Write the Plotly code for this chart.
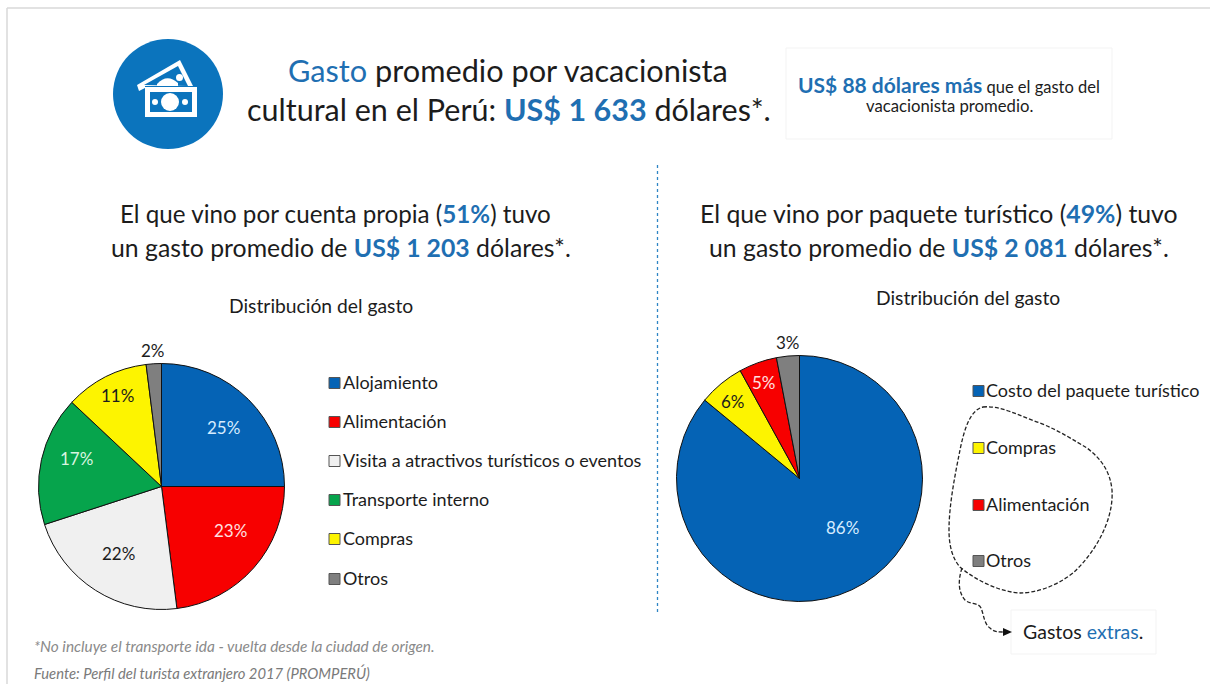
import plotly.graph_objects as go

FONT = "Lato"
BLUE = "#1f6fb2"
INK = "#1c1c1c"
ICON = "#0b74bd"

left_labels = ["Alojamiento", "Alimentación", "Visita a atractivos turísticos o eventos",
               "Transporte interno", "Compras", "Otros"]
left_values = [25, 23, 22, 17, 11, 2]
left_colors = ["#0563b5", "#f70000", "#f0f0f0", "#06a44c", "#fdf400", "#7f7f7f"]
left_text = ["#d6ecff", "#ffe0e0", INK, "#d8f5e0", INK, INK]

right_labels = ["Costo del paquete turístico", "Compras", "Alimentación", "Otros"]
right_values = [86, 6, 5, 3]
right_colors = ["#0563b5", "#fdf400", "#f70000", "#7f7f7f"]
right_text = ["#d6ecff", INK, "#ffe0e0", INK]

# pixel spots of the percentage labels and legend rows (layout only)
left_spots = [(223, 427), (230, 530), (118, 553), (76, 458), (117, 395), (153, 350)]
right_spots = [(842, 527), (733, 401), (764, 382), (788, 342)]
left_y = [383, 422, 461, 500, 539, 579]
right_y = [391, 448, 505, 561]

W, H = 1210, 684

def dom(cx, cy, r):
    return dict(x=[(cx - r) / W, (cx + r) / W], y=[1 - (cy + r) / H, 1 - (cy - r) / H])

def pie(labels, values, colors, domain):
    return go.Pie(labels=labels, values=values, sort=False, direction="clockwise", rotation=0,
                  domain=domain, marker=dict(colors=colors, line=dict(color="#111", width=1)),
                  textinfo="none", showlegend=False, hoverinfo="label+value")

fig = go.Figure()
fig.add_trace(pie(left_labels, left_values, left_colors, dom(161.5, 486.5, 123)))
fig.add_trace(pie(right_labels, right_values, right_colors, dom(799.5, 478.5, 123)))

shapes, ann = [], []

def rect(x0, y0, x1, y1, fill, line=None, lw=1, layer="below"):
    shapes.append(dict(type="rect", x0=x0, y0=y0, x1=x1, y1=y1, fillcolor=fill,
                       line=dict(color=line or fill, width=lw if line else 0), layer=layer))

def poly(path, fill):
    shapes.append(dict(type="path", path=path, fillcolor=fill, line=dict(width=0)))

def disc(x0, y0, x1, y1, fill):
    shapes.append(dict(type="circle", x0=x0, y0=y0, x1=x1, y1=y1, fillcolor=fill, line=dict(width=0)))

def text(x, y, s, size, anchor="center", color=INK, italic=False):
    if italic:
        s = "<i>" + s + "</i>"
    ann.append(dict(x=x, y=y, text=s, showarrow=False, xanchor=anchor, yanchor="middle", align=anchor,
                    font=dict(family=FONT, size=size, color=color)))

def hl(s):
    return f'<span style="color:{BLUE}">{s}</span>'

# frame
shapes.append(dict(type="line", x0=7, y0=8, x1=1210, y1=8, line=dict(color="#d9d9d9", width=1.5)))
shapes.append(dict(type="line", x0=7, y0=8, x1=7, y1=684, line=dict(color="#d9d9d9", width=1.5)))
# dotted divider
shapes.append(dict(type="line", x0=657.5, y0=165, x1=657.5, y1=612, line=dict(color="#2f86c5", width=1.3, dash="dot")))
# note boxes
rect(786, 48, 1112, 139, "white", "#f3f3f3")
rect(1011, 610, 1156, 654, "white", "#f3f3f3")

# icon
disc(113, 39, 223, 149, ICON)
poly("M137,85 L180,60 L193,86 L145,86 L145,88 L139,91 Z", "white")
poly("M144,85 L178,66 L188,86 Z", ICON)
poly("M157,84 Q167,73 178,83 L178,86 L157,86 Z", "white")
disc(176, 74, 183, 81, "white")
rect(145, 87, 197, 117, "white", layer="above")
poly("M150,92 L192,92 L192,112 L150,112 Z", ICON)
disc(161, 93, 179, 111, "white")
disc(152, 99, 158, 105, "white")
disc(182, 99, 188, 105, "white")

# dashed callout
DASH = "4px,2px"
shapes.append(dict(type="path",
    path="M983,407 C1000,405 1020,416 1040,423 C1060,431 1075,441 1087,448 C1100,458 1110,470 1112,490 "
         "C1114,520 1095,553 1073,573 C1055,587 1035,593 1020,593 C1000,592 975,580 960,567 "
         "C952,558 949,545 949,530 C949,505 955,475 960,450 C964,430 970,410 983,407 Z",
    fillcolor="rgba(0,0,0,0)", line=dict(color="#222", width=1.3, dash=DASH)))
shapes.append(dict(type="path",
    path="M962,568 C958,580 958,592 965,600 C970,605 978,602 981,608 C984,615 984,624 990,628 C994,632 998,632 1004,632",
    fillcolor="rgba(0,0,0,0)", line=dict(color="#222", width=1.3, dash=DASH)))
poly("M1003,628 L1012,632 L1003,636 Z", "#111")

# header text
text(508, 70, hl("Gasto") + " promedio por vacacionista", 30.7)
text(509, 109, "cultural en el Perú: " + hl("<b>US$ 1 633</b>") + " dólares*.", 30.5)
text(949, 84, '<span style="font-size:21px">' + hl("<b>US$ 88 dólares más</b>") + "</span> que el gasto del", 16.5)
text(949, 106, "vacacionista promedio.", 16.7)

text(335, 213, "El que vino por cuenta propia (" + hl("<b>51%</b>") + ") tuvo", 24.2)
text(341, 247, "un gasto promedio de " + hl("<b>US$ 1 203</b>") + " dólares*.", 24.8)
text(939, 213, "El que vino por paquete turístico (" + hl("<b>49%</b>") + ") tuvo", 24.8)
text(939, 247, "un gasto promedio de " + hl("<b>US$ 2 081</b>") + " dólares*.", 24.8)

text(321, 305, "Distribución del gasto", 19.3)
text(968, 297, "Distribución del gasto", 19.3)

# percentage labels
for v, c, (x, y) in zip(left_values, left_text, left_spots):
    text(x, y, f"{v}%", 17, color=c)
for v, c, (x, y) in zip(right_values, right_text, right_spots):
    text(x, y, f"{v}%", 17, color=c)

# legends
for name, col, y in zip(left_labels, left_colors, left_y):
    rect(329, y - 5.5, 340, y + 5.5, col, "#555", 1)
    text(341, y - 1, name, 18, "left")
for name, col, y in zip(right_labels, right_colors, right_y):
    rect(973, y - 5.5, 984, y + 5.5, col, "#555", 1)
    text(984, y - 1, name, 18, "left")

text(1083, 631, "Gastos " + hl("extras") + ".", 19.5)
text(32, 646, "*No incluye el transporte ida - vuelta desde la ciudad de origen.", 15.4, "left", "#8a8a8a", True)
text(32, 673, "Fuente: Perfil del turista extranjero 2017 (PROMPERÚ)", 14.8, "left", "#7a7a7a", True)

fig.update_layout(width=W, height=H, margin=dict(l=0, r=0, t=0, b=0), paper_bgcolor="white", plot_bgcolor="white",
                  xaxis=dict(range=[0, W], visible=False, fixedrange=True),
                  yaxis=dict(range=[H, 0], visible=False, fixedrange=True),
                  shapes=shapes, annotations=ann, showlegend=False)
fig.add_trace(go.Scatter(x=[0], y=[0], mode="markers", marker=dict(opacity=0), hoverinfo="skip", showlegend=False))
fig.write_html("out.html", config=dict(displayModeBar=False),
               post_script="document.body.style.margin='0';document.documentElement.style.overflow='hidden';")
